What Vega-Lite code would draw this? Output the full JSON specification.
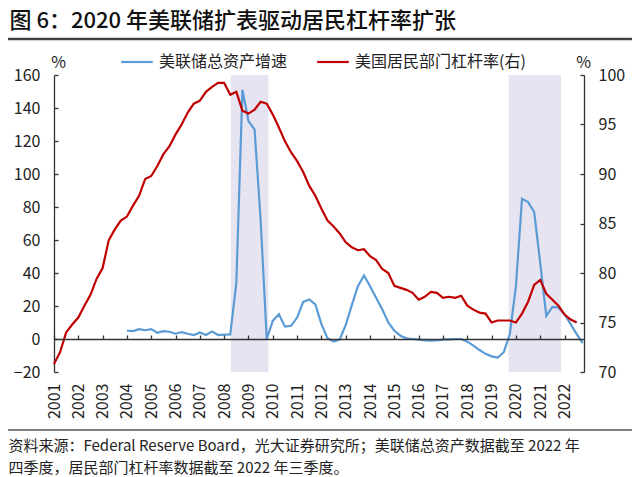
{
  "$schema": "https://vega.github.io/schema/vega-lite/v6.json",
  "autosize": {"type": "none"},
  "padding": {"left": 54, "top": 75, "right": 56, "bottom": 105},
  "width": 530,
  "height": 297,
  "background": "white",
  "config": {
    "font": "Noto Sans CJK SC",
    "view": {"stroke": null},
    "axis": {"grid": false, "labelFont": "Noto Sans CJK SC", "titleFont": "Noto Sans CJK SC", "domainColor": "#333333", "tickColor": "#333333", "domainWidth": 1.3, "tickWidth": 1.3},
    "legend": {"labelFont": "Noto Sans CJK SC"}
  },
  "datasets": {
    "fed": [
      {"t": 2004, "v": 5}, {"t": 2004.25, "v": 4.8}, {"t": 2004.5, "v": 6}, {"t": 2004.75, "v": 5.3},
      {"t": 2005, "v": 6}, {"t": 2005.25, "v": 3.8}, {"t": 2005.5, "v": 4.8}, {"t": 2005.75, "v": 4.4},
      {"t": 2006, "v": 3.2}, {"t": 2006.25, "v": 4.2}, {"t": 2006.5, "v": 3.2}, {"t": 2006.75, "v": 2.4},
      {"t": 2007, "v": 4}, {"t": 2007.25, "v": 2.4}, {"t": 2007.5, "v": 4.6}, {"t": 2007.75, "v": 2.4},
      {"t": 2008, "v": 2.6}, {"t": 2008.25, "v": 2.8}, {"t": 2008.5, "v": 34}, {"t": 2008.75, "v": 151},
      {"t": 2009, "v": 132}, {"t": 2009.25, "v": 127}, {"t": 2009.5, "v": 72}, {"t": 2009.75, "v": 0},
      {"t": 2010, "v": 11}, {"t": 2010.25, "v": 15}, {"t": 2010.5, "v": 7.5}, {"t": 2010.75, "v": 8},
      {"t": 2011, "v": 13}, {"t": 2011.25, "v": 22.5}, {"t": 2011.5, "v": 24}, {"t": 2011.75, "v": 21},
      {"t": 2012, "v": 9}, {"t": 2012.25, "v": 0.4}, {"t": 2012.5, "v": -1.6}, {"t": 2012.75, "v": -0.4},
      {"t": 2013, "v": 8.5}, {"t": 2013.25, "v": 20.5}, {"t": 2013.5, "v": 32}, {"t": 2013.75, "v": 38.5},
      {"t": 2014, "v": 32}, {"t": 2014.25, "v": 25}, {"t": 2014.5, "v": 18}, {"t": 2014.75, "v": 10},
      {"t": 2015, "v": 5}, {"t": 2015.25, "v": 2}, {"t": 2015.5, "v": 0.4}, {"t": 2015.75, "v": 0},
      {"t": 2016, "v": -0.4}, {"t": 2016.25, "v": -0.8}, {"t": 2016.5, "v": -1}, {"t": 2016.75, "v": -0.8},
      {"t": 2017, "v": -0.4}, {"t": 2017.25, "v": -0.2}, {"t": 2017.5, "v": 0}, {"t": 2017.75, "v": 0},
      {"t": 2018, "v": -1.6}, {"t": 2018.25, "v": -4}, {"t": 2018.5, "v": -6.7}, {"t": 2018.75, "v": -9},
      {"t": 2019, "v": -10.5}, {"t": 2019.25, "v": -11.3}, {"t": 2019.5, "v": -8}, {"t": 2019.75, "v": 3},
      {"t": 2020, "v": 32}, {"t": 2020.25, "v": 85}, {"t": 2020.5, "v": 83}, {"t": 2020.75, "v": 77},
      {"t": 2021, "v": 46}, {"t": 2021.25, "v": 14}, {"t": 2021.5, "v": 19.5}, {"t": 2021.75, "v": 19},
      {"t": 2022, "v": 15}, {"t": 2022.25, "v": 9}, {"t": 2022.5, "v": 3}, {"t": 2022.75, "v": -2.5}
    ],
    "hh": [
      {"t": 2001, "v": 70.8}, {"t": 2001.25, "v": 72.0}, {"t": 2001.5, "v": 74.0}, {"t": 2001.75, "v": 74.8},
      {"t": 2002, "v": 75.5}, {"t": 2002.25, "v": 76.7}, {"t": 2002.5, "v": 77.8}, {"t": 2002.75, "v": 79.4},
      {"t": 2003, "v": 80.5}, {"t": 2003.25, "v": 83.3}, {"t": 2003.5, "v": 84.4}, {"t": 2003.75, "v": 85.3},
      {"t": 2004, "v": 85.7}, {"t": 2004.25, "v": 86.8}, {"t": 2004.5, "v": 87.8}, {"t": 2004.75, "v": 89.5},
      {"t": 2005, "v": 89.8}, {"t": 2005.25, "v": 90.8}, {"t": 2005.5, "v": 92.0}, {"t": 2005.75, "v": 92.8},
      {"t": 2006, "v": 94.0}, {"t": 2006.25, "v": 95.0}, {"t": 2006.5, "v": 96.2}, {"t": 2006.75, "v": 97.1},
      {"t": 2007, "v": 97.4}, {"t": 2007.25, "v": 98.3}, {"t": 2007.5, "v": 98.8}, {"t": 2007.75, "v": 99.2},
      {"t": 2008, "v": 99.2}, {"t": 2008.25, "v": 98.0}, {"t": 2008.5, "v": 98.3}, {"t": 2008.75, "v": 96.4},
      {"t": 2009, "v": 96.1}, {"t": 2009.25, "v": 96.5}, {"t": 2009.5, "v": 97.3}, {"t": 2009.75, "v": 97.1},
      {"t": 2010, "v": 96.0}, {"t": 2010.25, "v": 94.7}, {"t": 2010.5, "v": 93.3}, {"t": 2010.75, "v": 92.2},
      {"t": 2011, "v": 91.3}, {"t": 2011.25, "v": 90.2}, {"t": 2011.5, "v": 88.8}, {"t": 2011.75, "v": 87.8},
      {"t": 2012, "v": 86.5}, {"t": 2012.25, "v": 85.3}, {"t": 2012.5, "v": 84.7}, {"t": 2012.75, "v": 84.0},
      {"t": 2013, "v": 83.1}, {"t": 2013.25, "v": 82.6}, {"t": 2013.5, "v": 82.3}, {"t": 2013.75, "v": 82.4},
      {"t": 2014, "v": 81.7}, {"t": 2014.25, "v": 81.3}, {"t": 2014.5, "v": 80.4}, {"t": 2014.75, "v": 80.0},
      {"t": 2015, "v": 78.7}, {"t": 2015.25, "v": 78.5}, {"t": 2015.5, "v": 78.3}, {"t": 2015.75, "v": 78.0},
      {"t": 2016, "v": 77.3}, {"t": 2016.25, "v": 77.6}, {"t": 2016.5, "v": 78.1}, {"t": 2016.75, "v": 78.0},
      {"t": 2017, "v": 77.5}, {"t": 2017.25, "v": 77.6}, {"t": 2017.5, "v": 77.5}, {"t": 2017.75, "v": 77.7},
      {"t": 2018, "v": 76.7}, {"t": 2018.25, "v": 76.3}, {"t": 2018.5, "v": 76.0}, {"t": 2018.75, "v": 75.9},
      {"t": 2019, "v": 75.0}, {"t": 2019.25, "v": 75.2}, {"t": 2019.5, "v": 75.2}, {"t": 2019.75, "v": 75.2},
      {"t": 2020, "v": 75.0}, {"t": 2020.25, "v": 75.9}, {"t": 2020.5, "v": 77.1}, {"t": 2020.75, "v": 78.8},
      {"t": 2021, "v": 79.3}, {"t": 2021.25, "v": 77.9}, {"t": 2021.5, "v": 77.3}, {"t": 2021.75, "v": 76.7},
      {"t": 2022, "v": 75.8}, {"t": 2022.25, "v": 75.3}, {"t": 2022.5, "v": 75.0}
    ],
    "shade": [
      {"s": 2008.27, "e": 2009.82},
      {"s": 2019.7, "e": 2021.86}
    ]
  },
  "layer": [
    {
      "data": {"name": "shade"},
      "mark": {"type": "rect", "color": "#E7E4F1"},
      "encoding": {
        "x": {"field": "s", "type": "quantitative", "axis": null},
        "x2": {"field": "e"}
      }
    },
    {
      "data": {"name": "fed"},
      "mark": {"type": "line", "strokeWidth": 2.2},
      "encoding": {
        "x": {
          "field": "t", "type": "quantitative",
          "scale": {"domain": [2001, 2022.8], "nice": false, "zero": false},
          "axis": {
            "orient": "bottom",
            "values": [2001, 2002, 2003, 2004, 2005, 2006, 2007, 2008, 2009, 2010, 2011, 2012, 2013, 2014, 2015, 2016, 2017, 2018, 2019, 2020, 2021, 2022],
            "format": "d", "labelAngle": 270, "ticks": false, "domain": false,
            "labelPadding": 11, "labelFontSize": 16, "labelColor": "#222222",
            "labelFlush": false, "labelOverlap": false,
            "title": ["资料来源：Federal Reserve Board，光大证券研究所；美联储总资产数据截至 2022 年", "四季度，居民部门杠杆率数据截至 2022 年三季度。"],
            "titleX": -46, "titleY": 78, "titleAlign": "left", "titleAnchor": "start",
            "titleBaseline": "alphabetic", "titleAngle": 0, "titleFontSize": 15,
            "titleFontWeight": "normal", "titleColor": "#222222", "titleLineHeight": 22
          }
        },
        "y": {
          "field": "v", "type": "quantitative",
          "scale": {"domain": [-20, 160], "nice": false, "zero": false},
          "axis": {
            "orient": "left",
            "values": [-20, 0, 20, 40, 60, 80, 100, 120, 140, 160],
            "tickSize": -4, "labelPadding": 18, "labelFontSize": 16, "labelColor": "#222222",
            "title": "%", "titleAngle": 0, "titleX": 4, "titleY": -13, "titleAlign": "center",
            "titleBaseline": "middle", "titleFontSize": 16, "titleFontWeight": "normal", "titleColor": "#222222"
          }
        },
        "color": {
          "datum": "美联储总资产增速", "type": "nominal",
          "scale": {"domain": ["美联储总资产增速", "美国居民部门杠杆率(右)"], "range": ["#5B9BD5", "#C00000"]},
          "legend": {
            "orient": "none", "legendX": 66, "legendY": -30, "direction": "horizontal", "title": null,
            "symbolType": "stroke", "symbolSize": 1000, "symbolStrokeWidth": 2.2,
            "labelFontSize": 16, "labelOffset": 5, "labelLimit": 300, "columnPadding": 24,
            "padding": 0, "labelColor": "#222222"
          }
        }
      }
    },
    {
      "data": {"name": "hh"},
      "mark": {"type": "line", "strokeWidth": 2.2},
      "encoding": {
        "x": {
          "field": "t", "type": "quantitative",
          "scale": {"domain": [2001, 2022.8], "nice": false, "zero": false},
          "axis": {
            "orient": "top", "offset": -264,
            "values": [2001, 2002, 2003, 2004, 2005, 2006, 2007, 2008, 2009, 2010, 2011, 2012, 2013, 2014, 2015, 2016, 2017, 2018, 2019, 2020, 2021, 2022],
            "labels": false, "ticks": true, "tickSize": 4, "domain": true, "zindex": 1,
            "title": "图 6：2020 年美联储扩表驱动居民杠杆率扩张",
            "titleX": -45, "titleY": -311.5, "titleAlign": "left", "titleAnchor": "start",
            "titleBaseline": "alphabetic", "titleAngle": 0, "titleFontSize": 22,
            "titleFontWeight": 500, "titleColor": "#111111"
          }
        },
        "y": {
          "field": "v", "type": "quantitative",
          "scale": {"domain": [70, 100], "nice": false, "zero": false},
          "axis": {
            "orient": "right",
            "values": [70, 75, 80, 85, 90, 95, 100],
            "tickSize": -4, "labelPadding": 18, "labelFontSize": 16, "labelColor": "#222222",
            "title": "%", "titleAngle": 0, "titleX": -1, "titleY": -13, "titleAlign": "center",
            "titleBaseline": "middle", "titleFontSize": 16, "titleFontWeight": "normal", "titleColor": "#222222"
          }
        },
        "color": {
          "datum": "美国居民部门杠杆率(右)", "type": "nominal",
          "scale": {"domain": ["美联储总资产增速", "美国居民部门杠杆率(右)"], "range": ["#5B9BD5", "#C00000"]}
        }
      }
    },
    {
      "data": {"values": [{}]},
      "mark": {"type": "rule", "color": "#404040", "strokeWidth": 2.4},
      "encoding": {
        "x": {"datum": 1999.108, "type": "quantitative", "axis": null},
        "x2": {"datum": 2024.774},
        "y": {"datum": 181.8, "type": "quantitative", "axis": null, "scale": {"domain": [-20, 160], "nice": false, "zero": false}}
      }
    },
    {
      "data": {"values": [{}]},
      "mark": {"type": "rule", "color": "#555555", "strokeWidth": 1.3},
      "encoding": {
        "x": {"datum": 1999.108, "type": "quantitative", "axis": null},
        "x2": {"datum": 2024.774},
        "y": {"datum": -55.15, "type": "quantitative", "axis": null, "scale": {"domain": [-20, 160], "nice": false, "zero": false}}
      }
    }
  ],
  "resolve": {"scale": {"y": "independent"}, "axis": {"x": "independent"}}
}
